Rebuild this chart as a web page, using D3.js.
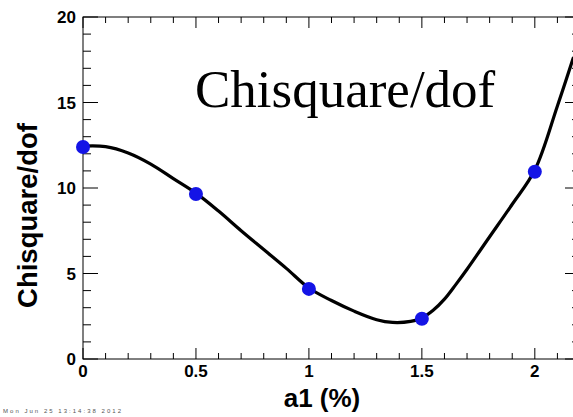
<!DOCTYPE html>
<html>
<head>
<meta charset="utf-8">
<script src="https://cdn.jsdelivr.net/npm/d3@7"></script>
<style>
  html, body { margin: 0; padding: 0; background: #fff; overflow: hidden; }
  svg { display: block; }
</style>
</head>
<body>
<script>
// Measured chi-square per degree of freedom vs. a1 (%)
const a1Values = [0, 0.5, 1.0, 1.5, 2.0];
const chi2Values = [12.4, 9.65, 4.1, 2.35, 10.95];

// Smooth fit curve through the scan (sampled along a1)
const curveX = [0, 0.1, 0.2, 0.3, 0.4, 0.5, 0.6, 0.7, 0.8, 0.9, 1.0, 1.1, 1.2, 1.3, 1.37, 1.45, 1.5, 1.55, 1.6, 1.65, 1.7, 1.8, 1.9, 2.0, 2.1, 2.17];
const curveY = [12.45, 12.42, 12.05, 11.4, 10.55, 9.7, 8.65, 7.5, 6.4, 5.3, 4.15, 3.42, 2.8, 2.3, 2.14, 2.2, 2.4, 2.85, 3.5, 4.35, 5.25, 7.15, 9.05, 11.05, 14.8, 17.6];

const xTickLabels = ["0", "0.5", "1", "1.5", "2"];
const yTickLabels = ["0", "5", "10", "15", "20"];

const W = 573, H = 417;
const frame = { left: 83, right: 580, top: 17, bottom: 359 };

const svg = d3.select("body").append("svg")
  .attr("width", W).attr("height", H);

const x = d3.scaleLinear().domain([0, 2.2]).range([frame.left, frame.right]);
const y = d3.scaleLinear().domain([0, 20]).range([frame.bottom, frame.top]);

const tickFont = "'Liberation Sans', Arial, Helvetica, sans-serif";

// Frame ticks: major every 0.5 / 5, minor every 0.1 / 1
const xMajor = d3.range(0, 2.2001, 0.5);
const xMinor = d3.range(0, 2.2001, 0.1).filter(v => Math.abs(v / 0.5 - Math.round(v / 0.5)) > 1e-6);
const yMajor = d3.range(0, 20.001, 5);
const yMinor = d3.range(0, 20.001, 1).filter(v => v % 5 !== 0);

const axisG = svg.append("g").attr("stroke", "#000").attr("stroke-width", 1).attr("fill", "none");

function tickLines(vals, len, side) {
  vals.forEach(v => {
    if (side === "bottom") axisG.append("line").attr("x1", x(v)).attr("x2", x(v)).attr("y1", frame.bottom).attr("y2", frame.bottom - len);
    if (side === "top") axisG.append("line").attr("x1", x(v)).attr("x2", x(v)).attr("y1", frame.top).attr("y2", frame.top + len);
    if (side === "left") axisG.append("line").attr("y1", y(v)).attr("y2", y(v)).attr("x1", frame.left).attr("x2", frame.left + len);
    if (side === "right") axisG.append("line").attr("y1", y(v)).attr("y2", y(v)).attr("x1", frame.right).attr("x2", frame.right - len);
  });
}
tickLines(xMajor, 11, "bottom"); tickLines(xMinor, 6, "bottom");
tickLines(xMajor, 11, "top"); tickLines(xMinor, 6, "top");
tickLines(yMajor, 15, "left"); tickLines(yMinor, 8, "left");
tickLines(yMajor, 15, "right"); tickLines(yMinor, 8, "right");

axisG.append("rect")
  .attr("x", frame.left).attr("y", frame.top)
  .attr("width", frame.right - frame.left).attr("height", frame.bottom - frame.top);

// Tick labels
svg.append("g").selectAll("text").data(xMajor).join("text")
  .attr("x", d => x(d)).attr("y", 377)
  .attr("text-anchor", "middle")
  .attr("font-family", tickFont).attr("font-weight", "bold").attr("font-size", 17)
  .text((d, i) => xTickLabels[i]);

svg.append("g").selectAll("text").data(yMajor).join("text")
  .attr("x", 76).attr("y", d => y(d) + 6)
  .attr("text-anchor", "end")
  .attr("font-family", tickFont).attr("font-weight", "bold").attr("font-size", 17)
  .text((d, i) => yTickLabels[i]);

// Axis titles
svg.append("text")
  .attr("x", 322).attr("y", 407)
  .attr("text-anchor", "middle")
  .attr("font-family", tickFont).attr("font-weight", "bold").attr("font-size", 26)
  .text("a1 (%)");

svg.append("text")
  .attr("transform", "translate(37,215.5) rotate(-90)")
  .attr("text-anchor", "middle")
  .attr("font-family", tickFont).attr("font-weight", "bold").attr("font-size", 27.5)
  .text("Chisquare/dof");

// Pad title
svg.append("text")
  .attr("x", 195).attr("y", 107)
  .attr("font-family", "'Liberation Serif', 'Times New Roman', serif").attr("font-size", 53)
  .text("Chisquare/dof");

// Fit curve
const plot = svg.append("g");
const curveData = curveX.map((v, i) => [v, curveY[i]]);
plot.append("path")
  .datum(curveData)
  .attr("fill", "none").attr("stroke", "#000").attr("stroke-width", 3.2)
  .attr("stroke-linejoin", "round").attr("stroke-linecap", "round")
  .attr("d", d3.line().x(d => x(d[0])).y(d => y(d[1])).curve(d3.curveCatmullRom.alpha(0.5)));

// Data points
plot.selectAll("circle").data(a1Values).join("circle")
  .attr("cx", d => x(d)).attr("cy", (d, i) => y(chi2Values[i]))
  .attr("r", 7).attr("fill", "#1414e6");

// Date stamp
svg.append("text")
  .attr("x", 3).attr("y", 413)
  .attr("font-family", tickFont).attr("font-size", 6).attr("fill", "#555")
  .attr("textLength", 118)
  .text("Mon Jun 25 13:14:38 2012");
</script>
</body>
</html>
